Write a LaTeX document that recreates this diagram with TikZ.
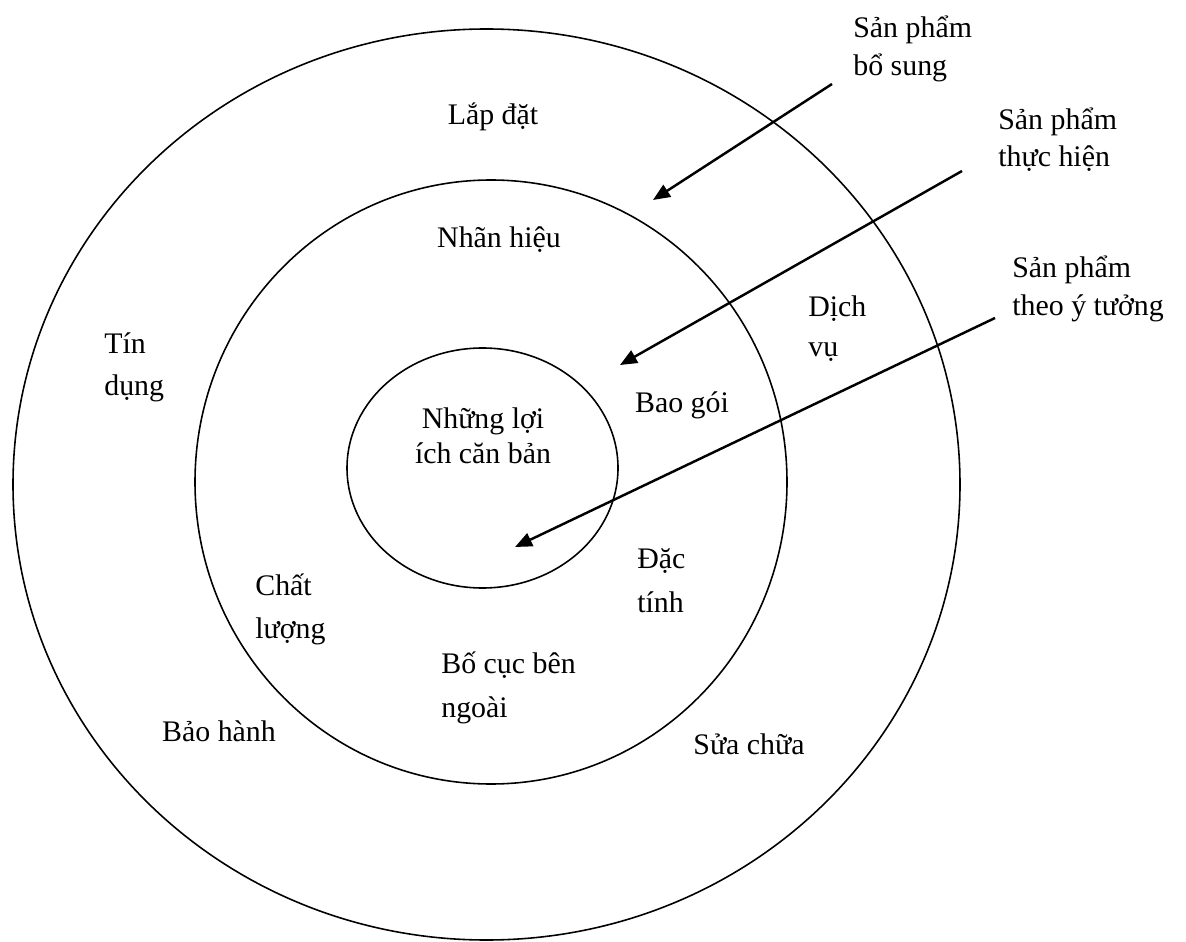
\documentclass[tikz,border=0pt]{standalone}
\usepackage{fontspec}
\setmainfont{Liberation Serif}
\usetikzlibrary{arrows.meta}
\newcommand{\muiten}[2]{\draw[line width=1.4pt,-{Triangle[length=0.34cm,width=0.28cm]}] (#1)--(#2);}
\newcommand{\cochu}[1]{\fontsize{17pt}{#1}\selectfont}

\begin{document}
\begin{tikzpicture}[x=0.02cm,y=-0.02cm,
  chu/.style={inner sep=0pt,font=\cochu{23pt}},
  vong/.style={line width=0.9pt}]
  \useasboundingbox (0,0) rectangle (1186,942);

  % ba vong tron
  \draw[vong] (486.5,484.5) ellipse (473.5 and 455.5);
  \draw[vong] (491,482) ellipse (296 and 302);
  \draw[vong] (482.5,468) ellipse (135.5 and 120);

  % vong ngoai
  \node[chu,anchor=base] (lapdat) at (493,125) {Lắp đặt};
  \node[chu,anchor=base west,align=left,font=\cochu{24.4pt}] (tindung) at (104,396) {Tín\\dụng};
  \node[chu,anchor=base west,align=left] (dichvu) at (808,357) {Dịch\\vụ};
  \node[chu,anchor=base] (baohanh) at (219,741) {Bảo hành};
  \node[chu,anchor=base] (suachua) at (749,754) {Sửa chữa};

  % vong giua
  \node[chu,anchor=base] (nhanhieu) at (499,248) {Nhãn hiệu};
  \node[chu,anchor=base] (baogoi) at (682,412) {Bao gói};
  \node[chu,anchor=base west,align=left,font=\cochu{24.4pt}] (chatluong) at (255,638) {Chất\\lượng};
  \node[chu,anchor=base west,align=left,font=\cochu{25pt}] (dactinh) at (637,612) {Đặc\\tính};
  \node[chu,anchor=base west,align=left,font=\cochu{25pt}] (bocuc) at (441,717) {Bố cục bên\\ngoài};

  % loi
  \node[chu,anchor=base,align=center,font=\cochu{19.8pt}] (loiich) at (483,463) {Những lợi\\ích căn bản};

  % nhan ben phai
  \node[chu,anchor=base west,align=left,font=\cochu{22pt}] (bosung) at (853,76) {Sản phẩm\\bổ sung};
  \node[chu,anchor=base west,align=left,font=\cochu{21.5pt}] (thuchien) at (998,167) {Sản phẩm\\thực hiện};
  \node[chu,anchor=base west,align=left,font=\cochu{22pt}] (ytuong) at (1012,316) {Sản phẩm\\theo ý tưởng};

  % mui ten
  \coordinate (bs-duoi) at (832,84);
  \coordinate (bs-mui) at (653,200);
  \coordinate (th-duoi) at (962,171);
  \coordinate (th-mui) at (620,365);
  \coordinate (yt-duoi) at (995,318);
  \coordinate (yt-mui) at (515,547);
  \muiten{bs-duoi}{bs-mui}
  \muiten{th-duoi}{th-mui}
  \muiten{yt-duoi}{yt-mui}
\end{tikzpicture}
\end{document}
